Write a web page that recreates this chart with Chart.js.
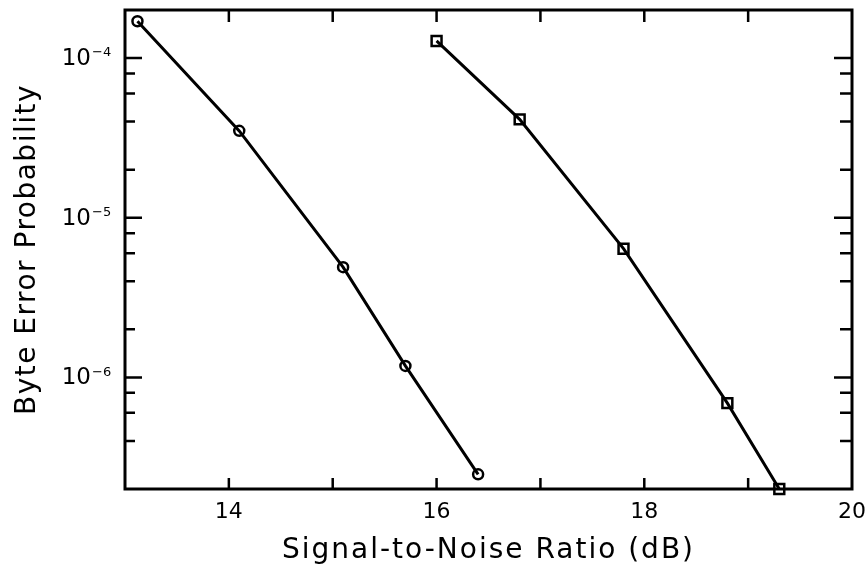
<!DOCTYPE html>
<html>
<head>
<meta charset="utf-8">
<script src="https://cdn.jsdelivr.net/npm/chart.js@4/dist/chart.umd.min.js"></script>
<style>
  html, body { margin: 0; padding: 0; background: #fff; }
  canvas { display: block; }
</style>
</head>
<body>
<canvas id="c" width="867" height="575"></canvas>
<script>
// Measured byte error probability versus SNR for two configurations
const snrCircle = [13.12, 14.1, 15.1, 15.7, 16.4];
const berCircle = [1.7e-4, 3.5e-5, 4.9e-6, 1.18e-6, 2.47e-7];
const snrSquare = [16.0, 16.8, 17.8, 18.8, 19.3];
const berSquare = [1.28e-4, 4.13e-5, 6.4e-6, 6.9e-7, 2.0e-7];

// Axis ranges and tick definitions
const xRange = [13, 20];
const yRange = [2e-7, 2e-4];
const xTickValues = [14, 15, 16, 17, 18, 19];
const xLabelValues = [14, 16, 18, 20];
const yLabelExponents = [-6, -5, -4];
const yMinorDecades = [-7, -6, -5, -4];
const yMinorMultipliers = [2, 4, 6, 8];

const xTitle = 'Signal-to-Noise Ratio (dB)';
const yTitle = 'Byte Error Probability';

const FONT = '"DejaVu Sans", "Liberation Sans", sans-serif';

function toPoints(xs, ys) {
  return xs.map((x, i) => ({ x: x, y: ys[i] }));
}

// Frame with inward-pointing ticks on all four sides, plus labels and titles
const framePlugin = {
  id: 'frame',
  beforeDatasetsDraw(chart) {
    const { ctx, chartArea: a, scales: { x, y } } = chart;
    ctx.save();
    ctx.strokeStyle = '#000';
    ctx.lineCap = 'butt';

    ctx.lineWidth = 2.5;
    ctx.beginPath();
    for (const v of xTickValues) {
      const px = x.getPixelForValue(v);
      ctx.moveTo(px, a.bottom); ctx.lineTo(px, a.bottom - 11);
      ctx.moveTo(px, a.top); ctx.lineTo(px, a.top + 12);
    }
    for (const e of yLabelExponents) {
      const py = y.getPixelForValue(Math.pow(10, e));
      ctx.moveTo(a.left, py); ctx.lineTo(a.left + 17, py);
      ctx.moveTo(a.right, py); ctx.lineTo(a.right - 18, py);
    }
    for (const d of yMinorDecades) {
      for (const m of yMinorMultipliers) {
        const v = m * Math.pow(10, d);
        if (v <= yRange[0] * 1.0001 || v >= yRange[1] * 0.9999) continue;
        const py = y.getPixelForValue(v);
        ctx.moveTo(a.left, py); ctx.lineTo(a.left + 10, py);
        ctx.moveTo(a.right, py); ctx.lineTo(a.right - 12, py);
      }
    }
    ctx.stroke();

    ctx.lineWidth = 3;
    ctx.strokeRect(a.left, a.top, a.right - a.left, a.bottom - a.top);
    ctx.restore();
  },
  afterDraw(chart) {
    const { ctx, chartArea: a, scales: { x, y } } = chart;
    ctx.save();
    ctx.fillStyle = '#000';

    // x tick labels
    ctx.font = '22px ' + FONT;
    ctx.textAlign = 'center';
    ctx.textBaseline = 'middle';
    for (const v of xLabelValues) {
      ctx.fillText(String(v), x.getPixelForValue(v), a.bottom + 23);
    }

    // y tick labels as powers of ten
    for (const e of yLabelExponents) {
      const py = y.getPixelForValue(Math.pow(10, e));
      ctx.font = '23px ' + FONT;
      ctx.textAlign = 'right';
      ctx.textBaseline = 'middle';
      ctx.fillText('10', a.left - 34, py + 1);
      ctx.font = '13px ' + FONT;
      ctx.textAlign = 'left';
      ctx.fillText('\u2212' + Math.abs(e), a.left - 33, py - 5);
    }

    // axis titles
    const cx = (a.left + a.right) / 2;
    const cy = (a.top + a.bottom) / 2;
    ctx.font = '28px ' + FONT;
    ctx.textAlign = 'center';
    ctx.textBaseline = 'alphabetic';
    ctx.letterSpacing = '2px';
    ctx.fillText(xTitle, cx, 558);

    ctx.letterSpacing = '1.5px';
    ctx.translate(35, cy);
    ctx.rotate(-Math.PI / 2);
    ctx.fillText(yTitle, 0, 0);
    ctx.restore();
  }
};

new Chart(document.getElementById('c'), {
  type: 'scatter',
  data: {
    datasets: [
      {
        label: 'circles',
        data: toPoints(snrCircle, berCircle),
        showLine: true,
        borderColor: '#000',
        borderWidth: 3,
        pointStyle: 'circle',
        pointRadius: 5,
        pointBorderWidth: 2.5,
        pointBackgroundColor: 'rgba(0,0,0,0)',
        pointBorderColor: '#000',
        clip: false
      },
      {
        label: 'squares',
        data: toPoints(snrSquare, berSquare),
        showLine: true,
        borderColor: '#000',
        borderWidth: 3,
        pointStyle: 'rect',
        pointRadius: 7,
        pointBorderWidth: 2.5,
        pointBackgroundColor: 'rgba(0,0,0,0)',
        pointBorderColor: '#000',
        clip: false
      }
    ]
  },
  options: {
    responsive: false,
    animation: false,
    devicePixelRatio: 1,
    layout: { padding: { left: 125, top: 10, right: 15, bottom: 86 } },
    plugins: { legend: { display: false }, tooltip: { enabled: false } },
    scales: {
      x: { type: 'linear', min: xRange[0], max: xRange[1], display: false },
      y: { type: 'logarithmic', min: yRange[0], max: yRange[1], display: false }
    }
  },
  plugins: [framePlugin]
});
</script>
</body>
</html>
